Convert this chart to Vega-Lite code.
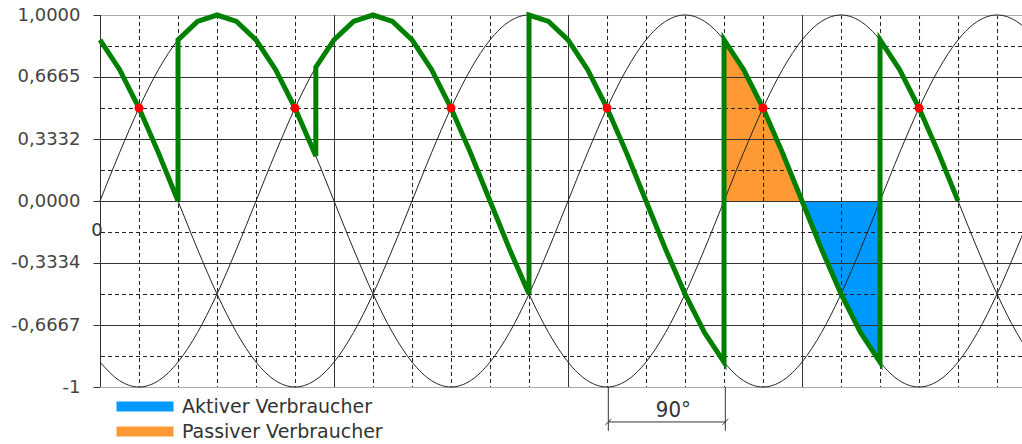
{
  "$schema": "https://vega.github.io/schema/vega-lite/v6.json",
  "width": 922,
  "height": 372,
  "autosize": "none",
  "padding": {"left": 100, "top": 15, "right": 0, "bottom": 57},
  "background": "white",
  "config": {"view": {"stroke": null}, "axis": {"title": null}},
  "datasets": {
    "sines": [
      {"t": 0, "a": 0, "b": -0.866, "c": 0.866},
      {"t": 15, "a": 0.2588, "b": -0.9659, "c": 0.7071},
      {"t": 30, "a": 0.5, "b": -1, "c": 0.5},
      {"t": 45, "a": 0.7071, "b": -0.9659, "c": 0.2588},
      {"t": 60, "a": 0.866, "b": -0.866, "c": 0},
      {"t": 75, "a": 0.9659, "b": -0.7071, "c": -0.2588},
      {"t": 90, "a": 1, "b": -0.5, "c": -0.5},
      {"t": 105, "a": 0.9659, "b": -0.2588, "c": -0.7071},
      {"t": 120, "a": 0.866, "b": 0, "c": -0.866},
      {"t": 135, "a": 0.7071, "b": 0.2588, "c": -0.9659},
      {"t": 150, "a": 0.5, "b": 0.5, "c": -1},
      {"t": 165, "a": 0.2588, "b": 0.7071, "c": -0.9659},
      {"t": 180, "a": 0, "b": 0.866, "c": -0.866},
      {"t": 195, "a": -0.2588, "b": 0.9659, "c": -0.7071},
      {"t": 210, "a": -0.5, "b": 1, "c": -0.5},
      {"t": 225, "a": -0.7071, "b": 0.9659, "c": -0.2588},
      {"t": 240, "a": -0.866, "b": 0.866, "c": 0},
      {"t": 255, "a": -0.9659, "b": 0.7071, "c": 0.2588},
      {"t": 270, "a": -1, "b": 0.5, "c": 0.5},
      {"t": 285, "a": -0.9659, "b": 0.2588, "c": 0.7071},
      {"t": 300, "a": -0.866, "b": 0, "c": 0.866},
      {"t": 315, "a": -0.7071, "b": -0.2588, "c": 0.9659},
      {"t": 330, "a": -0.5, "b": -0.5, "c": 1},
      {"t": 345, "a": -0.2588, "b": -0.7071, "c": 0.9659},
      {"t": 360, "a": 0, "b": -0.866, "c": 0.866},
      {"t": 375, "a": 0.2588, "b": -0.9659, "c": 0.7071},
      {"t": 390, "a": 0.5, "b": -1, "c": 0.5},
      {"t": 405, "a": 0.7071, "b": -0.9659, "c": 0.2588},
      {"t": 420, "a": 0.866, "b": -0.866, "c": 0},
      {"t": 435, "a": 0.9659, "b": -0.7071, "c": -0.2588},
      {"t": 450, "a": 1, "b": -0.5, "c": -0.5},
      {"t": 465, "a": 0.9659, "b": -0.2588, "c": -0.7071},
      {"t": 480, "a": 0.866, "b": 0, "c": -0.866},
      {"t": 495, "a": 0.7071, "b": 0.2588, "c": -0.9659},
      {"t": 510, "a": 0.5, "b": 0.5, "c": -1},
      {"t": 525, "a": 0.2588, "b": 0.7071, "c": -0.9659},
      {"t": 540, "a": 0, "b": 0.866, "c": -0.866},
      {"t": 555, "a": -0.2588, "b": 0.9659, "c": -0.7071},
      {"t": 570, "a": -0.5, "b": 1, "c": -0.5},
      {"t": 585, "a": -0.7071, "b": 0.9659, "c": -0.2588},
      {"t": 600, "a": -0.866, "b": 0.866, "c": 0},
      {"t": 615, "a": -0.9659, "b": 0.7071, "c": 0.2588},
      {"t": 630, "a": -1, "b": 0.5, "c": 0.5},
      {"t": 645, "a": -0.9659, "b": 0.2588, "c": 0.7071},
      {"t": 660, "a": -0.866, "b": 0, "c": 0.866},
      {"t": 675, "a": -0.7071, "b": -0.2588, "c": 0.9659},
      {"t": 690, "a": -0.5, "b": -0.5, "c": 1},
      {"t": 705, "a": -0.2588, "b": -0.7071, "c": 0.9659},
      {"t": 720, "a": 0, "b": -0.866, "c": 0.866}
    ],
    "green": [
      {"i": 0, "t": 0, "v": 0.866},
      {"i": 1, "t": 15, "v": 0.7071},
      {"i": 2, "t": 30, "v": 0.5},
      {"i": 3, "t": 45, "v": 0.2588},
      {"i": 4, "t": 60, "v": 0},
      {"i": 5, "t": 60, "v": 0.866},
      {"i": 6, "t": 75, "v": 0.9659},
      {"i": 7, "t": 90, "v": 1},
      {"i": 8, "t": 105, "v": 0.9659},
      {"i": 9, "t": 120, "v": 0.866},
      {"i": 10, "t": 135, "v": 0.7071},
      {"i": 11, "t": 150, "v": 0.5},
      {"i": 12, "t": 166, "v": 0.2419},
      {"i": 13, "t": 166, "v": 0.7193},
      {"i": 14, "t": 180, "v": 0.866},
      {"i": 15, "t": 195, "v": 0.9659},
      {"i": 16, "t": 210, "v": 1},
      {"i": 17, "t": 225, "v": 0.9659},
      {"i": 18, "t": 240, "v": 0.866},
      {"i": 19, "t": 255, "v": 0.7071},
      {"i": 20, "t": 270, "v": 0.5},
      {"i": 21, "t": 285, "v": 0.2588},
      {"i": 22, "t": 300, "v": 0},
      {"i": 23, "t": 315, "v": -0.2588},
      {"i": 24, "t": 330, "v": -0.5},
      {"i": 25, "t": 330, "v": 1},
      {"i": 26, "t": 345, "v": 0.9659},
      {"i": 27, "t": 360, "v": 0.866},
      {"i": 28, "t": 375, "v": 0.7071},
      {"i": 29, "t": 390, "v": 0.5},
      {"i": 30, "t": 405, "v": 0.2588},
      {"i": 31, "t": 420, "v": 0},
      {"i": 32, "t": 435, "v": -0.2588},
      {"i": 33, "t": 450, "v": -0.5},
      {"i": 34, "t": 465, "v": -0.7071},
      {"i": 35, "t": 480, "v": -0.866},
      {"i": 36, "t": 480, "v": 0.866},
      {"i": 37, "t": 495, "v": 0.7071},
      {"i": 38, "t": 510, "v": 0.5},
      {"i": 39, "t": 525, "v": 0.2588},
      {"i": 40, "t": 540, "v": 0},
      {"i": 41, "t": 555, "v": -0.2588},
      {"i": 42, "t": 570, "v": -0.5},
      {"i": 43, "t": 585, "v": -0.7071},
      {"i": 44, "t": 600, "v": -0.866},
      {"i": 45, "t": 600, "v": 0.866},
      {"i": 46, "t": 615, "v": 0.7071},
      {"i": 47, "t": 630, "v": 0.5},
      {"i": 48, "t": 645, "v": 0.2588},
      {"i": 49, "t": 660, "v": 0}
    ],
    "areas": [
      {"typ": "Passiver Verbraucher", "t": 480, "v": 0.866},
      {"typ": "Passiver Verbraucher", "t": 495, "v": 0.7071},
      {"typ": "Passiver Verbraucher", "t": 510, "v": 0.5},
      {"typ": "Passiver Verbraucher", "t": 525, "v": 0.2588},
      {"typ": "Passiver Verbraucher", "t": 540, "v": 0},
      {"typ": "Aktiver Verbraucher", "t": 540, "v": 0},
      {"typ": "Aktiver Verbraucher", "t": 555, "v": -0.2588},
      {"typ": "Aktiver Verbraucher", "t": 570, "v": -0.5},
      {"typ": "Aktiver Verbraucher", "t": 585, "v": -0.7071},
      {"typ": "Aktiver Verbraucher", "t": 600, "v": -0.866}
    ],
    "vsolid": [{"t": 0}, {"t": 180}, {"t": 360}, {"t": 540}],
    "vdash": [
      {"t": 30}, {"t": 60}, {"t": 90}, {"t": 120}, {"t": 150},
      {"t": 210}, {"t": 240}, {"t": 270}, {"t": 300}, {"t": 330},
      {"t": 390}, {"t": 420}, {"t": 450}, {"t": 480}, {"t": 510},
      {"t": 570}, {"t": 600}, {"t": 630}, {"t": 660}, {"t": 690}
    ],
    "hsolid": [{"v": 0.6667}, {"v": 0.3333}, {"v": 0}, {"v": -0.3333}, {"v": -0.6667}],
    "hdash": [{"v": 0.8333}, {"v": 0.5}, {"v": 0.1667}, {"v": -0.1667}, {"v": -0.5}, {"v": -0.8333}],
    "hedge": [{"v": 1}, {"v": -1}],
    "dots": [
      {"t": 30, "v": 0.5},
      {"t": 150, "v": 0.5},
      {"t": 270, "v": 0.5},
      {"t": 390, "v": 0.5},
      {"t": 510, "v": 0.5},
      {"t": 630, "v": 0.5}
    ],
    "dim": [
      {"x1": 391, "x2": 391, "y1": -1, "y2": -1.236},
      {"x1": 481, "x2": 481, "y1": -1, "y2": -1.236},
      {"x1": 391, "x2": 481, "y1": -1.188, "y2": -1.188},
      {"x1": 388.7, "x2": 393.3, "y1": -1.204, "y2": -1.172},
      {"x1": 478.7, "x2": 483.3, "y1": -1.204, "y2": -1.172}
    ],
    "labels": [
      {"t": 441, "v": -1.123, "s": "90°"}
    ],
    "zero": [
      {"t": 0, "v": -0.16, "s": "0"}
    ]
  },
  "layer": [
    {
      "data": {"name": "areas"},
      "mark": {"type": "area", "opacity": 1, "interpolate": "linear"},
      "encoding": {
        "x": {
          "field": "t", "type": "quantitative",
          "scale": {"domain": [0, 709.2], "nice": false, "zero": false},
          "axis": {"title": null, "labels": false, "ticks": false, "domain": false, "grid": false}
        },
        "y": {
          "field": "v", "type": "quantitative", "stack": null,
          "scale": {"domain": [-1, 1], "nice": false, "zero": false},
          "axis": {
            "title": null,
            "values": [-1, -0.6667, -0.3333, 0, 0.3333, 0.6667, 1],
            "labelExpr": "datum.value == 1 ? '1,0000' : datum.value == 0.6667 ? '0,6665' : datum.value == 0.3333 ? '0,3332' : datum.value == 0 ? '0,0000' : datum.value == -0.3333 ? '-0,3334' : datum.value == -0.6667 ? '-0,6667' : datum.value == -1 ? '-1' : ''",
            "labelFont": "DejaVu Sans", "labelFontSize": 18, "labelColor": "#444444",
            "labelPadding": 13, "labelOverlap": false, "labelFlush": false,
            "ticks": true, "tickSize": 7, "tickColor": "#333333",
            "domain": false, "grid": false
          }
        },
        "y2": {"datum": 0},
        "color": {
          "field": "typ", "type": "nominal",
          "scale": {"domain": ["Aktiver Verbraucher", "Passiver Verbraucher"], "range": ["#0099ff", "#ff9933"]},
          "legend": {
            "title": null, "orient": "none", "legendX": 58, "legendY": 382, "padding": 0,
            "symbolType": "M-8.5,-0.83L1,-0.83L1,0.83L-8.5,0.83Z", "symbolSize": 144,
            "symbolStrokeWidth": 0, "symbolOpacity": 1,
            "labelFont": "DejaVu Sans", "labelFontSize": 19, "labelColor": "#333333", "labelLimit": 0,
            "labelOffset": 5, "rowPadding": 5
          }
        }
      }
    },
    {
      "data": {"name": "vdash"},
      "mark": {"type": "rule", "color": "#222222", "strokeWidth": 1, "strokeDash": [4, 3], "xOffset": 0.5},
      "encoding": {"x": {"field": "t", "type": "quantitative"}}
    },
    {
      "data": {"name": "hdash"},
      "mark": {"type": "rule", "color": "#222222", "strokeWidth": 1, "strokeDash": [4, 3], "yOffset": 0.5},
      "encoding": {"y": {"field": "v", "type": "quantitative"}}
    },
    {
      "data": {"name": "hsolid"},
      "mark": {"type": "rule", "color": "#333333", "strokeWidth": 1, "yOffset": 0.5},
      "encoding": {"y": {"field": "v", "type": "quantitative"}}
    },
    {
      "data": {"name": "hedge"},
      "mark": {"type": "rule", "color": "#aaaaaa", "strokeWidth": 1, "yOffset": 0.5},
      "encoding": {"y": {"field": "v", "type": "quantitative"}}
    },
    {
      "data": {"name": "vsolid"},
      "mark": {"type": "rule", "color": "#333333", "strokeWidth": 1, "xOffset": 0.5},
      "encoding": {"x": {"field": "t", "type": "quantitative"}}
    },
    {
      "data": {"name": "sines"},
      "mark": {"type": "line", "color": "#222222", "strokeWidth": 1, "interpolate": "monotone"},
      "encoding": {
        "x": {"field": "t", "type": "quantitative"},
        "y": {"field": "a", "type": "quantitative"}
      }
    },
    {
      "data": {"name": "sines"},
      "mark": {"type": "line", "color": "#222222", "strokeWidth": 1, "interpolate": "monotone"},
      "encoding": {
        "x": {"field": "t", "type": "quantitative"},
        "y": {"field": "b", "type": "quantitative"}
      }
    },
    {
      "data": {"name": "sines"},
      "mark": {"type": "line", "color": "#222222", "strokeWidth": 1, "interpolate": "monotone"},
      "encoding": {
        "x": {"field": "t", "type": "quantitative"},
        "y": {"field": "c", "type": "quantitative"}
      }
    },
    {
      "data": {"name": "green"},
      "mark": {"type": "line", "color": "#008000", "strokeWidth": 5, "interpolate": "linear"},
      "encoding": {
        "x": {"field": "t", "type": "quantitative"},
        "y": {"field": "v", "type": "quantitative"},
        "order": {"field": "i", "type": "quantitative"}
      }
    },
    {
      "data": {"name": "dots"},
      "mark": {"type": "point", "filled": true, "color": "#ff0000", "size": 80, "opacity": 1},
      "encoding": {
        "x": {"field": "t", "type": "quantitative"},
        "y": {"field": "v", "type": "quantitative"}
      }
    },
    {
      "data": {"name": "dim"},
      "mark": {"type": "rule", "color": "#333333", "strokeWidth": 1},
      "encoding": {
        "x": {"field": "x1", "type": "quantitative"},
        "x2": {"field": "x2"},
        "y": {"field": "y1", "type": "quantitative"},
        "y2": {"field": "y2"}
      }
    },
    {
      "data": {"name": "labels"},
      "mark": {"type": "text", "font": "DejaVu Sans Condensed, DejaVu Sans", "fontSize": 22, "color": "#333333", "align": "center", "baseline": "middle"},
      "encoding": {
        "x": {"field": "t", "type": "quantitative"},
        "y": {"field": "v", "type": "quantitative"},
        "text": {"field": "s"}
      }
    },
    {
      "data": {"name": "zero"},
      "mark": {"type": "text", "font": "DejaVu Sans", "fontSize": 18, "color": "#333333", "align": "center", "baseline": "middle", "dx": -3},
      "encoding": {
        "x": {"field": "t", "type": "quantitative"},
        "y": {"field": "v", "type": "quantitative"},
        "text": {"field": "s"}
      }
    }
  ]
}
